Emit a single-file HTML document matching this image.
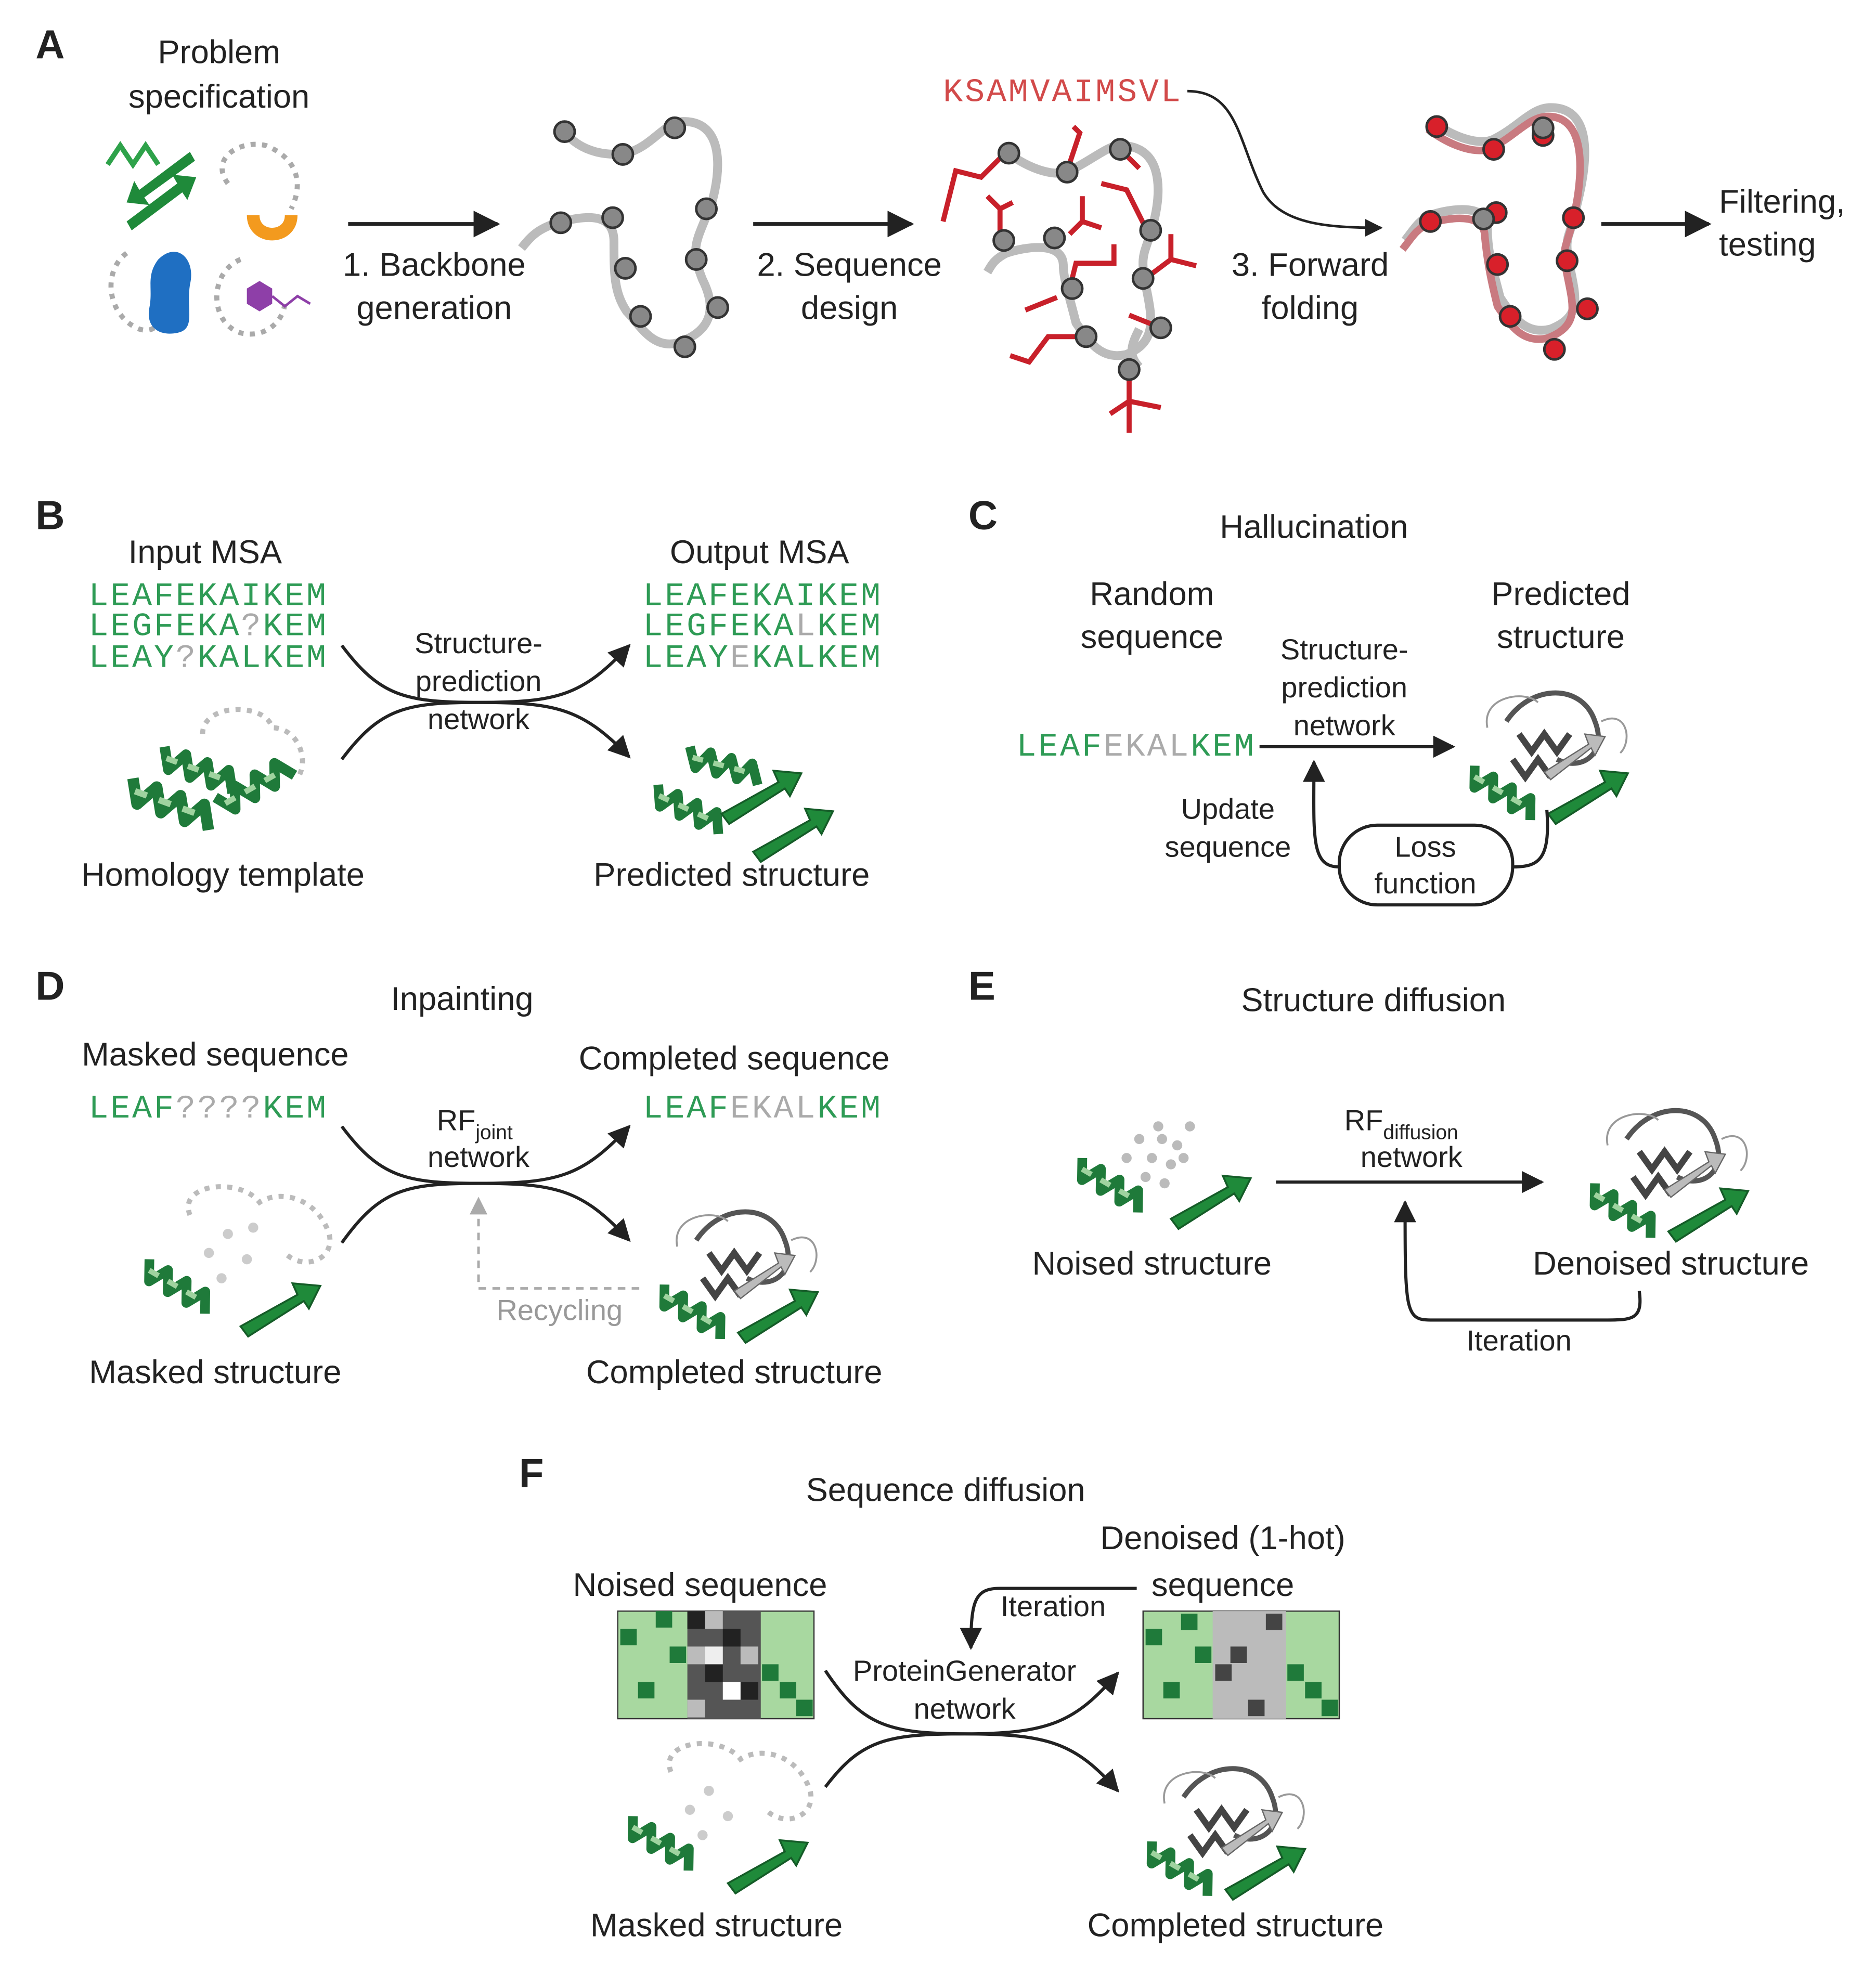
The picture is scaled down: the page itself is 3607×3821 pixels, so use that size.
<!DOCTYPE html>
<html><head><meta charset="utf-8"><style>
html,body{margin:0;padding:0;background:#fff}
svg{display:block}
text{font-family:"Liberation Sans",sans-serif;fill:#222}
.m{font-family:"Liberation Mono",monospace;font-size:26px;letter-spacing:1.6px;fill:#2e9b55}
.l{font-size:26px;text-anchor:middle}
.s{font-size:23px;text-anchor:middle}
.h{font-size:32px;font-weight:bold}
</style></head><body>
<svg width="3607" height="3821" viewBox="0 0 1482 1570" xmlns="http://www.w3.org/2000/svg">
<defs>
<marker id="ar" viewBox="0 0 10 10" refX="9" refY="5" markerWidth="7" markerHeight="7" orient="auto-start-reverse"><path d="M0,0 L10,5 L0,10 z" fill="#222"/></marker>
<marker id="ag" viewBox="0 0 10 10" refX="9" refY="5" markerWidth="7" markerHeight="7" orient="auto"><path d="M0,0 L10,5 L0,10 z" fill="#aaa"/></marker>
<g id="helix">
<path d="M0,0 l10,18 l10,-18 l10,18 l10,-18 l10,18 l10,-18 l10,18" fill="none" stroke="#1f7a3a" stroke-width="9" stroke-linejoin="round"/>
<path d="M5,9 l10,0 M25,9 l10,0 M45,9 l10,0" stroke="#9fd39f" stroke-width="5"/>
</g>
<g id="garrow"><polygon points="0,28 45,3 41,-6 63,-4 54,14 50,8 6,36" fill="#1f8a3a" stroke="#155c28" stroke-width="1.5"/></g>
<g id="dense">
<use href="#helix" transform="translate(0,25) rotate(30) scale(0.85)"/>
<path d="M25,-10 c20,-30 60,-30 70,0 c10,25 -10,40 -30,30" fill="none" stroke="#555" stroke-width="4"/>
<path d="M35,0 l10,14 l10,-14 l10,14 l10,-14 M30,20 l10,14 l10,-14 l10,14" fill="none" stroke="#444" stroke-width="5"/>
<polygon points="55,30 90,8 87,0 103,2 95,17 92,11 60,36" fill="#bbb" stroke="#666"/>
<use href="#garrow" transform="translate(58,35)"/>
<path d="M10,-5 c-5,-25 30,-30 40,-20 M100,-10 c20,-10 25,15 15,25" fill="none" stroke="#999" stroke-width="1.5"/>
</g>
</defs>

<!-- Panel A -->
<text x="28" y="46" class="h">A</text>
<text x="173" y="50" class="l">Problem</text>
<text x="173" y="85" class="l">specification</text>
<path d="M85,130 l10,-15 l10,15 l10,-15 l10,15" fill="none" stroke="#2ea24a" stroke-width="4"/>
<polygon points="100,175 140,145 136,138 155,140 148,158 144,152 104,182" fill="#1f8a3a"/>
<polygon points="150,120 110,150 106,143 100,160 118,162 114,156 154,127" fill="#1f8a3a"/>
<path d="M180,145 c-15,-20 10,-35 30,-30 c25,10 30,30 20,50" fill="none" stroke="#aaa" stroke-width="4" stroke-dasharray="4,5"/>
<path d="M200,170 c0,20 30,20 30,0" fill="none" stroke="#f39a1e" stroke-width="10"/>
<path d="M100,200 c-20,15 -15,50 10,60 c15,5 20,-10 20,-30" fill="none" stroke="#aaa" stroke-width="4" stroke-dasharray="4,5"/>
<path d="M125,205 c15,-15 30,0 25,20 c-3,20 5,35 -10,38 c-15,3 -25,-5 -22,-20 c3,-15 -3,-25 7,-38z" fill="#1f6fc2"/>
<path d="M190,205 c-25,10 -25,50 0,58 c20,5 35,-10 35,-25" fill="none" stroke="#aaa" stroke-width="4" stroke-dasharray="4,5"/>
<polygon points="205,222 215,228 215,240 205,246 195,240 195,228" fill="#8e3fa8"/>
<path d="M215,234 l10,8 l10,-8 l10,6" fill="none" stroke="#8e3fa8" stroke-width="2"/>
<line x1="275" y1="177" x2="393" y2="177" stroke="#222" stroke-width="3" marker-end="url(#ar)"/>
<text x="343" y="218" class="l">1. Backbone</text>
<text x="343" y="252" class="l">generation</text>
<path d="M445,103 c15,20 40,20 50,18 c20,-5 30,-25 45,-25 c40,0 25,60 20,70 c-10,25 -15,30 -5,55 c10,20 10,40 -20,50 c-20,5 -30,-15 -40,-25 c-10,-15 -10,-30 -10,-55 c0,-25 -25,-20 -45,-15 c-15,5 -20,10 -28,20" fill="none" stroke="#bbb" stroke-width="7"/>
<g fill="#888" stroke="#333" stroke-width="2">
<circle cx="446" cy="104" r="8"/><circle cx="492" cy="122" r="8"/><circle cx="533" cy="101" r="8"/><circle cx="558" cy="165" r="8"/><circle cx="550" cy="205" r="8"/><circle cx="567" cy="243" r="8"/><circle cx="541" cy="274" r="8"/><circle cx="506" cy="250" r="8"/><circle cx="494" cy="212" r="8"/><circle cx="484" cy="172" r="8"/><circle cx="443" cy="176" r="8"/>
</g>
<line x1="595" y1="177" x2="720" y2="177" stroke="#222" stroke-width="3" marker-end="url(#ar)"/>
<text x="671" y="218" class="l">2. Sequence</text>
<text x="671" y="252" class="l">design</text>
<path d="M795,120 c20,15 40,20 50,15 c20,-10 30,-20 40,-20 c40,0 30,50 25,65 c-5,20 -10,20 -5,45 c5,25 10,45 -15,55 c-20,5 -30,-10 -40,-25 c-5,-20 -10,-35 -10,-45 c0,-20 -30,-15 -45,-10 c-10,5 -12,10 -15,15" fill="none" stroke="#bbb" stroke-width="7"/>
<path d="M900,260 c-5,10 -10,20 0,30" fill="none" stroke="#bbb" stroke-width="7"/>
<g fill="none" stroke="#c8202a" stroke-width="4">
<path d="M795,120 l-20,20 l-20,-5 l-10,40"/><path d="M843,135 l10,-30 l-5,-5"/><path d="M885,118 l15,15"/><path d="M905,180 l-15,-30 l-20,-5"/><path d="M790,185 l0,-20 l-10,-10 M790,165 l10,-5"/><path d="M855,175 l0,-20 M855,175 l-10,10 M855,175 l15,5"/><path d="M845,228 l5,-20 l30,0 l0,-15"/><path d="M905,220 l20,-15 l20,5 M925,205 l0,-20"/><path d="M858,266 l-30,0 l-15,20 l-15,-5"/><path d="M917,259 l-25,-10"/><path d="M892,292 l0,25 l-15,10 M892,317 l25,5 M892,317 l0,25"/><path d="M835,235 l-25,10"/></g>
<g fill="#888" stroke="#333" stroke-width="2">
<circle cx="797" cy="121" r="8"/><circle cx="843" cy="136" r="8"/><circle cx="885" cy="118" r="8"/><circle cx="909" cy="182" r="8"/><circle cx="903" cy="220" r="8"/><circle cx="917" cy="259" r="8"/><circle cx="892" cy="292" r="8"/><circle cx="858" cy="266" r="8"/><circle cx="847" cy="228" r="8"/><circle cx="833" cy="188" r="8"/><circle cx="793" cy="190" r="8"/>
</g>
<text x="745" y="80" class="m" style="fill:#d24a4a">KSAMVAIMSVL</text>
<path d="M938,72 c40,0 40,40 60,80 c15,25 50,28 93,28" fill="none" stroke="#222" stroke-width="2" marker-end="url(#ar)"/>
<text x="1035" y="218" class="l">3. Forward</text>
<text x="1035" y="252" class="l">folding</text>
<path d="M1130,95 c20,15 40,20 50,15 c20,-10 30,-25 45,-25 c40,0 25,60 20,80 c-5,25 -10,20 -5,45 c5,25 10,40 -15,50 c-20,5 -30,-10 -40,-25 c-5,-20 -10,-35 -10,-55 c0,-20 -30,-15 -45,-10 c-10,5 -12,10 -20,20" fill="none" stroke="#bbb" stroke-width="7"/>
<path d="M1128,102 c20,15 40,20 50,15 c20,-10 30,-25 45,-25 c35,0 25,60 20,80 c-5,25 -10,20 -5,45 c5,25 10,40 -15,50 c-20,5 -30,-10 -40,-25 c-5,-20 -8,-35 -10,-55 c0,-20 -30,-15 -45,-10 c-10,5 -12,10 -20,20" fill="none" stroke="#c97a80" stroke-width="6"/>
<g fill="#d8202a" stroke="#333" stroke-width="2">
<circle cx="1135" cy="100" r="8"/><circle cx="1180" cy="118" r="8"/><circle cx="1219" cy="107" r="8"/><circle cx="1243" cy="172" r="8"/><circle cx="1238" cy="206" r="8"/><circle cx="1254" cy="244" r="8"/><circle cx="1228" cy="276" r="8"/><circle cx="1193" cy="250" r="8"/><circle cx="1183" cy="209" r="8"/><circle cx="1182" cy="168" r="8"/><circle cx="1130" cy="175" r="8"/>
</g>
<circle cx="1219" cy="101" r="8" fill="#888" stroke="#333" stroke-width="2"/>
<circle cx="1172" cy="173" r="8" fill="#888" stroke="#333" stroke-width="2"/>
<line x1="1265" y1="177" x2="1350" y2="177" stroke="#222" stroke-width="3" marker-end="url(#ar)"/>
<text x="1358" y="168" style="font-size:26px">Filtering,</text>
<text x="1358" y="202" style="font-size:26px">testing</text>

<!-- Panel B -->
<text x="28" y="418" class="h">B</text>
<text x="162" y="445" class="l">Input MSA</text>
<text x="70" y="478" class="m">LEAFEKAIKEM</text>
<text x="70" y="502" class="m">LEGFEKA<tspan style="fill:#aaa">?</tspan>KEM</text>
<text x="70" y="527" class="m">LEAY<tspan style="fill:#aaa">?</tspan>KALKEM</text>
<path d="M270,510 C300,550 320,555 378,555 C440,555 460,550 497,510" fill="none" stroke="#222" stroke-width="2.5" marker-end="url(#ar)"/>
<path d="M270,600 C300,560 320,555 378,555 C440,555 460,560 497,598" fill="none" stroke="#222" stroke-width="2.5" marker-end="url(#ar)"/>
<text x="378" y="516" class="s">Structure-</text>
<text x="378" y="546" class="s">prediction</text>
<text x="378" y="576" class="s">network</text>
<path d="M160,580 c0,-25 50,-25 55,-5 c20,0 30,25 20,40" fill="none" stroke="#bbb" stroke-width="4" stroke-dasharray="4,5"/>
<use href="#helix" transform="translate(105,615) rotate(20) scale(1.0)"/>
<use href="#helix" transform="translate(130,590) rotate(20) scale(0.9)"/>
<use href="#helix" transform="translate(170,630) rotate(-30) scale(0.9)"/>
<text x="176" y="700" class="l">Homology template</text>
<text x="600" y="445" class="l">Output MSA</text>
<text x="508" y="478" class="m">LEAFEKAIKEM</text>
<text x="508" y="502" class="m">LEGFEKA<tspan style="fill:#aaa">L</tspan>KEM</text>
<text x="508" y="527" class="m">LEAY<tspan style="fill:#aaa">E</tspan>KALKEM</text>
<use href="#helix" transform="translate(520,620) rotate(25) scale(0.85)"/>
<use href="#helix" transform="translate(545,590) rotate(15) scale(0.85)"/>
<use href="#garrow" transform="translate(570,615)"/>
<use href="#garrow" transform="translate(595,645)"/>
<text x="578" y="700" class="l">Predicted structure</text>

<!-- Panel C -->
<text x="765" y="418" class="h">C</text>
<text x="1038" y="425" class="l">Hallucination</text>
<text x="910" y="478" class="l">Random</text>
<text x="910" y="512" class="l">sequence</text>
<text x="1233" y="478" class="l">Predicted</text>
<text x="1233" y="512" class="l">structure</text>
<text x="803" y="597" class="m">LEAF<tspan style="fill:#aaa">EKAL</tspan>KEM</text>
<line x1="995" y1="590" x2="1148" y2="590" stroke="#222" stroke-width="2.5" marker-end="url(#ar)"/>
<text x="1062" y="521" class="s">Structure-</text>
<text x="1062" y="551" class="s">prediction</text>
<text x="1062" y="581" class="s">network</text>
<use href="#dense" transform="translate(1165,580)"/>
<rect x="1058" y="652" width="137" height="63" rx="30" fill="#fff" stroke="#222" stroke-width="2.5"/>
<text x="1126" y="677" class="s">Loss</text>
<text x="1126" y="706" class="s">function</text>
<path d="M1222,640 C1225,680 1215,685 1195,685" fill="none" stroke="#222" stroke-width="2.5"/>
<path d="M1058,685 C1035,685 1038,660 1038,602" fill="none" stroke="#222" stroke-width="2.5" marker-end="url(#ar)"/>
<text x="970" y="647" class="s">Update</text>
<text x="970" y="677" class="s">sequence</text>

<!-- Panel D -->
<text x="28" y="790" class="h">D</text>
<text x="365" y="798" class="l">Inpainting</text>
<text x="170" y="842" class="l">Masked sequence</text>
<text x="70" y="883" class="m">LEAF<tspan style="fill:#aaa">????</tspan>KEM</text>
<text x="580" y="845" class="l">Completed sequence</text>
<text x="508" y="883" class="m">LEAF<tspan style="fill:#aaa">EKAL</tspan>KEM</text>
<path d="M270,890 C300,930 320,935 378,935 C440,935 460,930 497,890" fill="none" stroke="#222" stroke-width="2.5" marker-end="url(#ar)"/>
<path d="M270,982 C300,940 320,935 378,935 C440,935 460,940 497,980" fill="none" stroke="#222" stroke-width="2.5" marker-end="url(#ar)"/>
<text x="345" y="893" style="font-size:23px">RF<tspan style="font-size:16px" dy="7">joint</tspan></text>
<text x="378" y="922" class="s">network</text>
<path d="M505,1018 L378,1018 L378,947" fill="none" stroke="#aaa" stroke-width="2" stroke-dasharray="6,5" marker-end="url(#ag)"/>
<text x="442" y="1043" class="s" style="fill:#999">Recycling</text>
<path d="M150,960 c-10,-25 40,-30 55,-10 c15,-10 45,-5 55,25 c5,20 -20,30 -35,15" fill="none" stroke="#bbb" stroke-width="4" stroke-dasharray="4,5"/>
<g fill="#ccc"><circle cx="165" cy="990" r="4"/><circle cx="180" cy="975" r="4"/><circle cx="195" cy="995" r="4"/><circle cx="175" cy="1010" r="4"/><circle cx="200" cy="970" r="4"/></g>
<use href="#helix" transform="translate(118,995) rotate(30) scale(0.85)"/>
<use href="#garrow" transform="translate(190,1020)"/>
<text x="170" y="1093" class="l">Masked structure</text>
<use href="#dense" transform="translate(525,990)"/>
<text x="580" y="1093" class="l">Completed structure</text>

<!-- Panel E -->
<text x="765" y="790" class="h">E</text>
<text x="1085" y="799" class="l">Structure diffusion</text>
<g fill="#bbb"><circle cx="900" cy="900" r="4"/><circle cx="915" cy="890" r="4"/><circle cx="930" cy="905" r="4"/><circle cx="910" cy="915" r="4"/><circle cx="925" cy="920" r="4"/><circle cx="890" cy="915" r="4"/><circle cx="940" cy="890" r="4"/><circle cx="920" cy="935" r="4"/><circle cx="905" cy="930" r="4"/><circle cx="935" cy="915" r="4"/><circle cx="918" cy="900" r="4"/></g>
<use href="#helix" transform="translate(855,915) rotate(30) scale(0.85)"/>
<use href="#garrow" transform="translate(925,935)"/>
<text x="910" y="1007" class="l">Noised structure</text>
<line x1="1008" y1="934" x2="1218" y2="934" stroke="#222" stroke-width="2.5" marker-end="url(#ar)"/>
<text x="1062" y="893" style="font-size:23px">RF<tspan style="font-size:16px" dy="7">diffusion</tspan></text>
<text x="1115" y="922" class="s">network</text>
<use href="#dense" transform="translate(1260,910)"/>
<text x="1320" y="1007" class="l">Denoised structure</text>
<path d="M1295,1020 C1298,1042 1290,1043 1270,1043 L1130,1043 C1110,1043 1110,1035 1110,950" fill="none" stroke="#222" stroke-width="2.5" marker-end="url(#ar)"/>
<text x="1200" y="1067" class="s">Iteration</text>

<!-- Panel F -->
<text x="410" y="1175" class="h">F</text>
<text x="747" y="1186" class="l">Sequence diffusion</text>
<text x="553" y="1261" class="l">Noised sequence</text>
<text x="966" y="1224" class="l">Denoised (1-hot)</text>
<text x="966" y="1261" class="l">sequence</text>
<rect x="488" y="1273" width="155" height="85" fill="#a8d8a0" stroke="#333" stroke-width="1"/>
<rect x="543" y="1273" width="58" height="85" fill="#555"/>
<g fill="#222"><rect x="543" y="1273" width="14" height="14"/><rect x="571" y="1287" width="14" height="14"/><rect x="557" y="1315" width="14" height="14"/><rect x="585" y="1329" width="14" height="14"/></g>
<g fill="#bbb"><rect x="557" y="1273" width="14" height="14"/><rect x="543" y="1301" width="14" height="14"/><rect x="585" y="1301" width="14" height="14"/><rect x="543" y="1343" width="14" height="14"/></g>
<rect x="571" y="1329" width="14" height="14" fill="#fff"/>
<rect x="557" y="1301" width="14" height="14" fill="#eee"/>
<g fill="#1f7a3a"><rect x="490" y="1287" width="13" height="13"/><rect x="518" y="1273" width="13" height="13"/><rect x="504" y="1329" width="13" height="13"/><rect x="529" y="1301" width="13" height="13"/><rect x="602" y="1315" width="13" height="13"/><rect x="616" y="1329" width="13" height="13"/><rect x="629" y="1343" width="13" height="13"/></g>
<rect x="903" y="1273" width="155" height="85" fill="#a8d8a0" stroke="#333" stroke-width="1"/>
<rect x="958" y="1273" width="58" height="85" fill="#bbb"/>
<g fill="#444"><rect x="972" y="1301" width="13" height="13"/><rect x="1000" y="1275" width="13" height="13"/><rect x="960" y="1315" width="13" height="13"/><rect x="986" y="1343" width="13" height="13"/></g>
<g fill="#1f7a3a"><rect x="905" y="1287" width="13" height="13"/><rect x="933" y="1275" width="13" height="13"/><rect x="919" y="1329" width="13" height="13"/><rect x="944" y="1301" width="13" height="13"/><rect x="1017" y="1315" width="13" height="13"/><rect x="1031" y="1329" width="13" height="13"/><rect x="1044" y="1343" width="13" height="13"/></g>
<path d="M652,1320 C680,1362 700,1370 762,1370 C830,1370 850,1360 883,1322" fill="none" stroke="#222" stroke-width="2.5" marker-end="url(#ar)"/>
<path d="M652,1412 C680,1375 700,1370 762,1370 C830,1370 850,1378 883,1415" fill="none" stroke="#222" stroke-width="2.5" marker-end="url(#ar)"/>
<text x="762" y="1328" class="s">ProteinGenerator</text>
<text x="762" y="1358" class="s">network</text>
<path d="M898,1255 L790,1255 C770,1255 767,1265 767,1302" fill="none" stroke="#222" stroke-width="2.5" marker-end="url(#ar)"/>
<text x="832" y="1277" class="s">Iteration</text>
<path d="M530,1400 c-10,-25 40,-30 55,-10 c15,-10 45,-5 55,25 c5,20 -20,30 -35,15" fill="none" stroke="#bbb" stroke-width="4" stroke-dasharray="4,5"/>
<g fill="#ccc"><circle cx="545" cy="1430" r="4"/><circle cx="560" cy="1415" r="4"/><circle cx="575" cy="1435" r="4"/><circle cx="555" cy="1450" r="4"/></g>
<use href="#helix" transform="translate(500,1435) rotate(30) scale(0.85)"/>
<use href="#garrow" transform="translate(575,1460)"/>
<text x="566" y="1530" class="l">Masked structure</text>
<use href="#dense" transform="translate(910,1430)"/>
<text x="976" y="1530" class="l">Completed structure</text>
</svg>
</body></html>
